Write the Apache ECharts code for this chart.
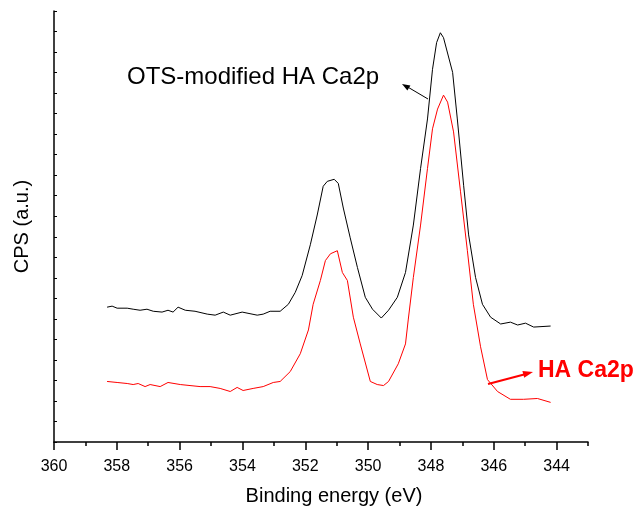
<!DOCTYPE html>
<html>
<head>
<meta charset="utf-8">
<script src="https://cdn.jsdelivr.net/npm/echarts@6/dist/echarts.min.js"></script>
<style>
  html, body { margin: 0; padding: 0; background: #fff; }
  #chart { width: 638px; height: 511px; }
</style>
</head>
<body>
<div id="chart"></div>
<script>
// binding energy (eV) / intensity pairs
const otsEnergy = [358.31, 358.15, 357.99, 357.67, 357.48, 357.26, 357.04, 356.84, 356.56, 356.37,
  356.21, 356.05, 355.82, 355.51, 355.12, 354.87, 354.61, 354.39, 354.01, 353.53, 353.34, 353.12,
  352.80, 352.54, 352.32, 352.10, 351.84, 351.62, 351.43, 351.30, 351.08, 350.95, 350.79, 350.57,
  350.34, 350.09, 349.86, 349.58, 349.35, 349.07, 348.81, 348.56, 348.33, 348.11, 347.95, 347.82,
  347.70, 347.60, 347.31, 347.16, 346.96, 346.80, 346.58, 346.36, 346.10, 345.78, 345.47, 345.24,
  344.99, 344.73, 344.19];
const otsCps = [6.57, 6.62, 6.52, 6.52, 6.47, 6.42, 6.47, 6.37, 6.33, 6.42,
  6.33, 6.57, 6.42, 6.37, 6.23, 6.18, 6.33, 6.18, 6.33, 6.18, 6.23, 6.37,
  6.37, 6.71, 7.29, 8.11, 9.61, 11.06, 12.46, 12.70, 12.80, 12.60, 11.40, 9.95,
  8.50, 7.05, 6.47, 6.04, 6.42, 7.05, 8.26, 10.57, 13.33, 15.74, 18.16, 19.46,
  19.94, 19.70, 18.01, 15.74, 12.51, 10.09, 8.02, 6.71, 6.08, 5.75, 5.84, 5.70,
  5.79, 5.60, 5.65];

const haEnergy = [358.31, 357.99, 357.67, 357.48, 357.32, 357.10, 356.94, 356.62, 356.37, 355.98,
  355.67, 355.35, 355.03, 354.71, 354.39, 354.17, 353.98, 353.66, 353.34, 353.02, 352.80, 352.48,
  352.16, 351.90, 351.75, 351.52, 351.36, 351.20, 350.98, 350.82, 350.66, 350.47, 350.25, 349.93,
  349.71, 349.51, 349.35, 349.04, 348.81, 348.72, 348.56, 348.33, 348.11, 347.95, 347.79, 347.60,
  347.47, 347.28, 347.06, 346.84, 346.65, 346.42, 346.20, 345.88, 345.47, 345.05, 344.61, 344.19];
const haCps = [2.95, 2.90, 2.85, 2.80, 2.85, 2.70, 2.80, 2.70, 2.90, 2.80,
  2.75, 2.70, 2.70, 2.61, 2.46, 2.66, 2.51, 2.61, 2.70, 2.90, 2.95, 3.43,
  4.30, 5.46, 6.71, 7.87, 8.84, 9.17, 9.32, 8.26, 7.87, 6.08, 4.78, 2.95,
  2.80, 2.75, 2.95, 3.81, 4.78, 5.99, 8.02, 10.57, 13.33, 15.26, 16.22, 16.90,
  16.56, 15.11, 12.22, 9.32, 6.71, 4.64, 3.04, 2.46, 2.08, 2.08, 2.12, 1.93];

// axis ticks
const majorTicks = [344, 346, 348, 350, 352, 354, 356, 358, 360];
const minorTicks = [343, 345, 347, 349, 351, 353, 355, 357, 359];

const font = "'Liberation Sans', Arial, Helvetica, sans-serif";
const zip = (xs, ys) => xs.map((x, i) => [x, ys[i]]);

let chart = echarts.init(document.getElementById("chart"));
let option = {
  animation: false,
  backgroundColor: "#fff",
  grid: { left: 54, right: 50, top: 11, bottom: 65 },
  xAxis: [
    {
      type: "value",
      min: 343,
      max: 360,
      inverse: true,
      name: "Binding energy (eV)",
      nameLocation: "middle",
      nameGap: 44,
      nameTextStyle: { color: "#000", fontSize: 20, fontFamily: font, padding: [0, 0, 0, 26] },
      axisLine: { lineStyle: { color: "#000", width: 1.5 } },
      axisTick: { show: true, customValues: majorTicks, length: 8, lineStyle: { color: "#000", width: 1.5 } },
      axisLabel: { customValues: majorTicks, color: "#000", fontSize: 16, fontFamily: font, margin: 17 },
      splitLine: { show: false },
    },
    {
      type: "value",
      min: 343,
      max: 360,
      inverse: true,
      position: "bottom",
      axisLine: { show: false },
      axisTick: { show: true, customValues: minorTicks, length: 4, lineStyle: { color: "#000", width: 1.5 } },
      axisLabel: { show: false },
      splitLine: { show: false },
    },
  ],
  yAxis: {
    type: "value",
    min: 0,
    max: 21,
    interval: 1,
    name: "CPS (a.u.)",
    nameLocation: "middle",
    nameGap: 22,
    nameTextStyle: { color: "#000", fontSize: 20, fontFamily: font },
    axisLine: { show: true, lineStyle: { color: "#000", width: 1.5 } },
    axisTick: { show: true, inside: true, length: 3, lineStyle: { color: "#000" } },
    axisLabel: { show: false },
    splitLine: { show: false },
  },
  series: [
    {
      name: "OTS-modified HA Ca2p",
      type: "line",
      data: zip(otsEnergy, otsCps),
      symbol: "none",
      lineStyle: { color: "#000", width: 1 },
    },
    {
      name: "HA Ca2p",
      type: "line",
      data: zip(haEnergy, haCps),
      symbol: "none",
      lineStyle: { color: "#ff0000", width: 1 },
    },
  ],
  graphic: [
    {
      type: "text", left: 127, top: 65,
      style: { text: "OTS-modified HA Ca2p", fill: "#000", fontSize: 24, fontFamily: font },
    },
    { type: "line", shape: { x1: 428, y1: 99, x2: 406, y2: 86 }, style: { stroke: "#000", lineWidth: 1 } },
    { type: "polygon", shape: { points: [[402, 84], [410.4, 85.4], [407.4, 90.6]] }, style: { fill: "#000" } },
    {
      type: "text", left: 538, top: 359,
      style: { text: "HA Ca2p", fill: "#ff0000", fontSize: 23, fontWeight: "bold", fontFamily: font },
    },
    { type: "line", shape: { x1: 488, y1: 384, x2: 526, y2: 374 }, style: { stroke: "#ff0000", lineWidth: 2 } },
    { type: "polygon", shape: { points: [[533, 372], [524.2, 377.8], [522.4, 371]] }, style: { fill: "#ff0000" } },
  ],
};
chart.setOption(option);
</script>
</body>
</html>
